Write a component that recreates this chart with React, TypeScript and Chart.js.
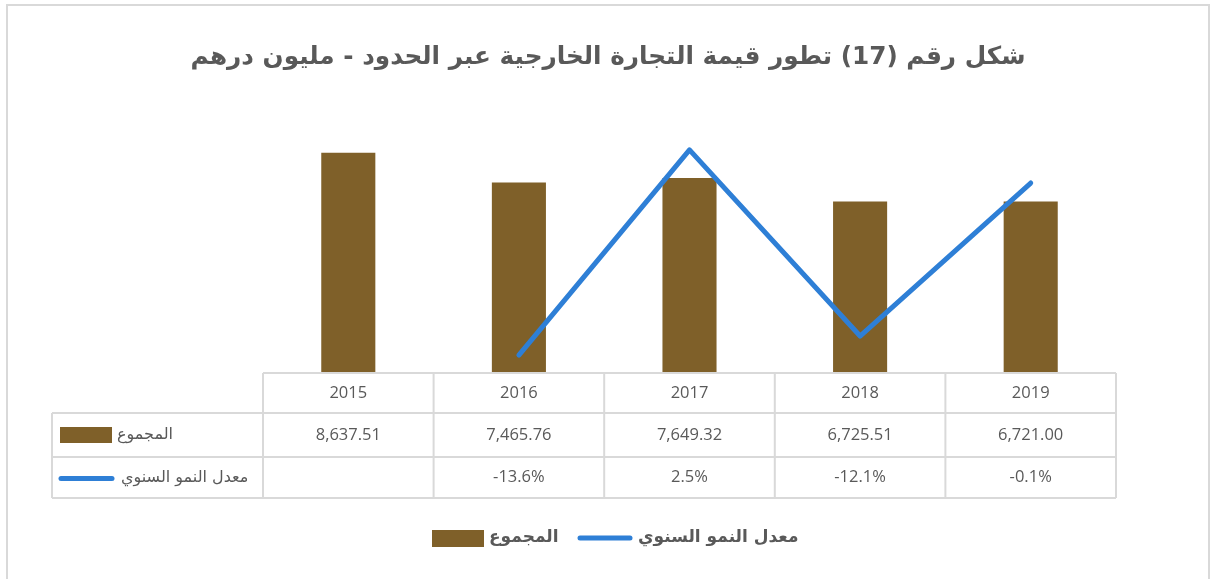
import React, { useEffect, useRef } from "react";
import { Chart, registerables } from "chart.js";

Chart.register(...registerables);

const years = ["2015", "2016", "2017", "2018", "2019"];
const totals = [8637.51, 7465.76, 7649.32, 6725.51, 6721.0];
const growth: (number | null)[] = [null, -13.6, 2.5, -12.1, -0.1];
const titleText = "شكل رقم (17) تطور قيمة التجارة الخارجية عبر الحدود - مليون درهم";
const totalLabel = "المجموع";
const growthLabel = "معدل النمو السنوي";

const BAR_COLOR = "#7F6029";
const LINE_COLOR = "#2E7FD6";
const TEXT_COLOR = "#595959";
const GRID_COLOR = "#D9D9D9";
const AR_FONT = "'DejaVu Sans', 'Noto Sans', sans-serif";
const NUM_FONT = "'Open Sans', 'Noto Sans', sans-serif";

const fmtTotal = (v: number) =>
  v.toLocaleString("en-US", { minimumFractionDigits: 2, maximumFractionDigits: 2 });
const fmtGrowth = (v: number | null) => (v === null ? "" : `${v.toFixed(1)}%`);

const decorPlugin = {
  id: "decor",
  afterDraw(chart: any) {
    const ctx: CanvasRenderingContext2D = chart.ctx;
    const area = chart.chartArea;
    const W = chart.width;
    ctx.save();

    // outer frame
    ctx.strokeStyle = GRID_COLOR;
    ctx.lineWidth = 2;
    ctx.beginPath();
    ctx.moveTo(7, chart.height + 5);
    ctx.lineTo(7, 5);
    ctx.lineTo(W - 2, 5);
    ctx.lineTo(W - 2, chart.height + 5);
    ctx.stroke();

    // title
    ctx.fillStyle = TEXT_COLOR;
    ctx.direction = "rtl";
    ctx.textAlign = "center";
    ctx.textBaseline = "middle";
    let size = 30;
    ctx.font = `bold ${size}px ${AR_FONT}`;
    const w = ctx.measureText(titleText).width;
    size = Math.min(30, (30 * 835) / w);
    ctx.font = `bold ${size}px ${AR_FONT}`;
    ctx.fillText(titleText, 608, 58);

    // data table
    const left = area.left;
    const right = area.right;
    const top = area.bottom;
    const colW = (right - left) / years.length;
    const r1 = top + 40;
    const r2 = top + 84;
    const r3 = top + 125;
    const labelLeft = 52;

    ctx.strokeStyle = GRID_COLOR;
    ctx.lineWidth = 2;
    ctx.beginPath();
    ctx.moveTo(left, top);
    ctx.lineTo(right, top);
    [r1, r2, r3].forEach((y) => {
      ctx.moveTo(labelLeft, y);
      ctx.lineTo(right, y);
    });
    ctx.moveTo(labelLeft, r1);
    ctx.lineTo(labelLeft, r3);
    for (let i = 0; i <= years.length; i++) {
      const x = left + i * colW;
      ctx.moveTo(x, top);
      ctx.lineTo(x, r3);
    }
    ctx.stroke();

    ctx.direction = "ltr";
    ctx.fillStyle = TEXT_COLOR;
    ctx.textAlign = "center";
    ctx.textBaseline = "middle";
    ctx.font = `16.5px ${NUM_FONT}`;
    years.forEach((y, i) => {
      const cx = left + (i + 0.5) * colW;
      ctx.fillText(y, cx, (top + r1) / 2);
      ctx.fillText(fmtTotal(totals[i]), cx, (r1 + r2) / 2);
      ctx.fillText(fmtGrowth(growth[i]), cx, (r2 + r3) / 2);
    });

    // row labels with keys
    ctx.fillStyle = BAR_COLOR;
    ctx.fillRect(60, (r1 + r2) / 2 - 8, 52, 16);
    ctx.strokeStyle = LINE_COLOR;
    ctx.lineWidth = 5;
    ctx.lineCap = "round";
    ctx.beginPath();
    ctx.moveTo(61, (r2 + r3) / 2 + 1);
    ctx.lineTo(112, (r2 + r3) / 2 + 1);
    ctx.stroke();

    ctx.fillStyle = TEXT_COLOR;
    ctx.direction = "rtl";
    ctx.textAlign = "left";
    ctx.font = `16px ${AR_FONT}`;
    ctx.fillText(totalLabel, 117, (r1 + r2) / 2);
    ctx.fillText(growthLabel, 121, (r2 + r3) / 2);

    // legend
    const ly = 538;
    ctx.fillStyle = BAR_COLOR;
    ctx.fillRect(432, ly - 8, 52, 17);
    ctx.strokeStyle = LINE_COLOR;
    ctx.lineWidth = 5;
    ctx.beginPath();
    ctx.moveTo(580, ly);
    ctx.lineTo(630, ly);
    ctx.stroke();
    ctx.fillStyle = TEXT_COLOR;
    ctx.font = `bold 17px ${AR_FONT}`;
    ctx.textAlign = "left";
    ctx.fillText(totalLabel, 489, ly);
    ctx.fillText(growthLabel, 638, ly);

    ctx.restore();
  },
};

export default function App() {
  const ref = useRef<HTMLCanvasElement | null>(null);

  useEffect(() => {
    if (!ref.current) return;
    const chart = new Chart(ref.current, {
      type: "bar",
      data: {
        labels: years,
        datasets: [
          {
            type: "line",
            label: growthLabel,
            data: growth,
            yAxisID: "y2",
            borderColor: LINE_COLOR,
            backgroundColor: LINE_COLOR,
            borderWidth: 5,
            borderCapStyle: "round",
            borderJoinStyle: "round",
            pointRadius: 0,
            tension: 0,
            order: 0,
          } as any,
          {
            type: "bar",
            label: totalLabel,
            data: totals,
            yAxisID: "y",
            backgroundColor: BAR_COLOR,
            barPercentage: 0.317,
            categoryPercentage: 1,
            order: 1,
          },
        ],
      },
      options: {
        responsive: false,
        animation: false,
        devicePixelRatio: 1,
        layout: { padding: { left: 263, right: 95, top: 118, bottom: 206 } },
        plugins: {
          legend: { display: false },
          title: { display: false },
          tooltip: { enabled: false },
        },
        scales: {
          x: { display: false, offset: true },
          y: { display: false, min: 0, max: 10000 },
          y2: { display: false, min: -15, max: 5, position: "right" },
        },
      },
      plugins: [decorPlugin],
    });
    return () => chart.destroy();
  }, []);

  return (
    <div style={{ position: "absolute", left: 0, top: 0, width: 1211, height: 579, background: "#fff" }}>
      <canvas ref={ref} width={1211} height={579} style={{ display: "block" }} />
    </div>
  );
}
